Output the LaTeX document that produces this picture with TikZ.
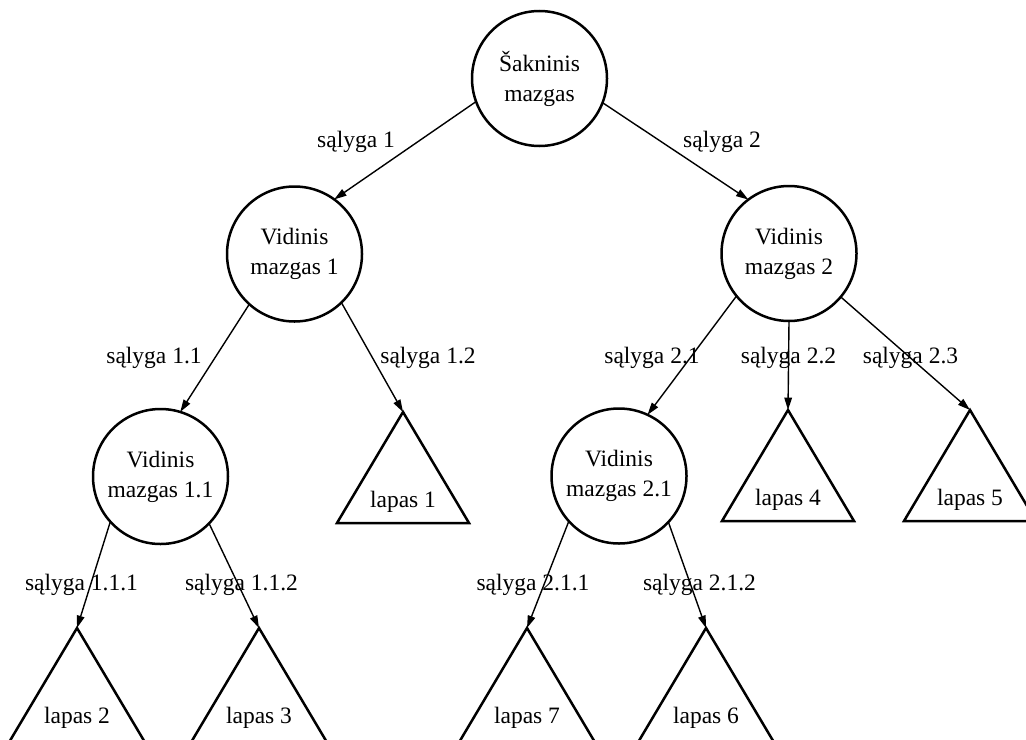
\documentclass[tikz,border=0pt]{standalone}
\usepackage{fontspec}
\setmainfont{Liberation Serif}
\usetikzlibrary{arrows.meta}
\begin{document}
\begin{tikzpicture}[x=0.5pt,y=-0.5pt,
  every node/.style={font=\fontsize{11.75pt}{15pt}\selectfont},
  inner/.style={circle,draw,line width=1.25pt,minimum size=67.5pt,inner sep=0pt,outer sep=0pt,align=center},
  leaf/.style={draw,line width=1.25pt,line join=miter},
  leaftext/.style={inner sep=0pt},
  cond/.style={anchor=base,inner sep=0pt},
  edge/.style={line width=0.7pt,-{Triangle[length=6.2pt,width=3.8pt]}}]
\useasboundingbox (0,0) rectangle (1026,739);

% decision nodes
\node[inner] (root) at (539.5,78.5) {Šakninis\\mazgas};
\node[inner] (v1)   at (294.5,254)  {Vidinis\\mazgas 1};
\node[inner] (v2)   at (789,253.5)  {Vidinis\\mazgas 2};
\node[inner] (v11)  at (160.5,476.5) {Vidinis\\mazgas 1.1};
\node[inner] (v21)  at (619,476)    {Vidinis\\mazgas 2.1};

% leaves: apex coordinate, outline (height \h) and caption
\foreach \n/\x/\y/\h/\t in {l1/403/412/111/lapas 1, l4/788/410/111/lapas 4, l5/970/410/111/lapas 5,
                          l2/77/628/116/lapas 2, l3/259/628/116/lapas 3, l7/527/628/116/lapas 7, l6/706/628/116/lapas 6}{
  \coordinate (\n) at (\x,\y);
  \draw[leaf] (\n) -- ++({-0.5946*\h},\h) -- ++({1.1892*\h},0) -- cycle;
  \node[leaftext] (\n t) at (\x,\y+90) {\t};
}

% branches
\draw[edge] (root.200.8) -- (v1.54.6);
\draw[edge] (root.339.5) -- (v2.127.1);
\draw[edge] (v1.228.1) -- (v11.73.7);
\draw[edge] (v1.314.1) -- (l1);
\draw[edge] (v2.219.5) -- (v21.65.3);
\draw[edge] (v2.270.8) -- (l4);
\draw[edge] (v2.320.6) -- (l5);
\draw[edge] (v11.222.7) -- (l2);
\draw[edge] (v11.316.8) -- (l3);
\draw[edge] (v21.222.1) -- (l7);
\draw[edge] (v21.317.3) -- (l6);

% branch conditions
\node[cond] (c1)   at (356,147)   {sąlyga 1};
\node[cond] (c2)   at (722,147)   {sąlyga 2};
\node[cond] (c11)  at (154,363)   {sąlyga 1.1};
\node[cond] (c12)  at (428,363)   {sąlyga 1.2};
\node[cond] (c21)  at (652,363)   {sąlyga 2.1};
\node[cond] (c22)  at (788.5,363) {sąlyga 2.2};
\node[cond] (c23)  at (910.5,363) {sąlyga 2.3};
\node[cond] (c111) at (81.5,590)  {sąlyga 1.1.1};
\node[cond] (c112) at (241.5,590) {sąlyga 1.1.2};
\node[cond] (c211) at (533,590)   {sąlyga 2.1.1};
\node[cond] (c212) at (699.5,590) {sąlyga 2.1.2};
\end{tikzpicture}
\end{document}
